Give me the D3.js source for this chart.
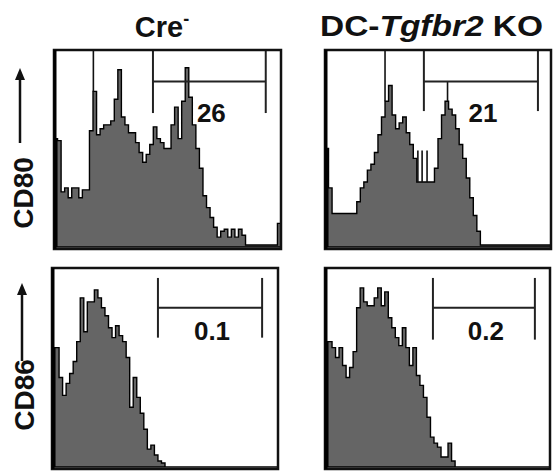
<!DOCTYPE html>
<html>
<head>
<meta charset="utf-8" />
<style>
body { margin: 0; background-color: #fff; }
#chart { width: 553px; height: 472px; }
text { font-family: "Liberation Sans", Arial, sans-serif; font-weight: bold; fill: #111; }
</style>
<title>CD80 / CD86 histograms</title>
</head>
<body>
<div id="chart"></div>
<script src="https://d3js.org/d3.v7.min.js"></script>
<script>

// column / row labels
var groups = ["Cre", "DC-Tgfbr2 KO"];
var markers = ["CD80", "CD86"];

// histogram counts per channel (fraction of panel height), 64 channels
var creCD80 = [0.55,0.54,0.28,0.30,0.25,0.30,0.30,0.25,0.29,0.29,
               0.59,0.79,0.57,0.60,0.62,0.62,0.64,0.75,0.90,0.66,
               0.62,0.58,0.58,0.53,0.48,0.43,0.47,0.52,0.61,0.55,
               0.53,0.50,0.50,0.62,0.71,0.55,0.74,0.91,0.76,0.62,
               0.50,0.40,0.26,0.20,0.15,0.10,0.05,0.08,0.09,0.05,
               0.09,0.05,0.09,0.06,0.01,0.01,0.01,0.01,0.01,0.01,
               0.01,0.01,0.01,0.12];
var koCD80 = [0.50,0.30,0.17,0.17,0.17,0.17,0.17,0.17,0.17,0.23,
              0.30,0.33,0.39,0.42,0.48,0.57,0.66,0.74,0.82,0.67,
              0.60,0.63,0.66,0.58,0.52,0.45,0.33,0.33,0.33,0.33,
              0.33,0.40,0.55,0.67,0.74,0.70,0.67,0.60,0.52,0.45,
              0.35,0.25,0.16,0.08,0.01,0.01,0.01,0.01,0.01,0.01,
              0.01,0.01,0.01,0.01,0.01,0.01,0.01,0.01,0.01,0.01,
              0.01,0.01,0.01,0.01];
var creCD86 = [0.60,0.60,0.45,0.36,0.42,0.47,0.53,0.63,0.85,0.68,
               0.83,0.83,0.89,0.85,0.80,0.76,0.70,0.65,0.71,0.66,
               0.63,0.55,0.30,0.45,0.35,0.27,0.19,0.09,0.11,0.06,
               0.03,0.02,0,0,0,0,0,0,0,0,
               0,0,0,0,0,0,0,0,0,0,
               0,0,0,0,0,0,0,0,0,0,
               0,0,0,0];
var koCD86 = [0.63,0.63,0.60,0.55,0.60,0.51,0.45,0.50,0.58,0.80,
              0.90,0.83,0.81,0.81,0.85,0.90,0.81,0.88,0.75,0.70,
              0.65,0.61,0.70,0.60,0.51,0.60,0.46,0.41,0.35,0.25,
              0.15,0.12,0.10,0.05,0.05,0.12,0.03,0,0,0,
              0,0,0,0,0,0,0,0,0,0,
              0,0,0,0,0,0,0,0,0,0,
              0,0,0,0];

// single-channel spikes [channel, height]
var creCD80Spikes = [[11.1, 1.0]];
var koCD80Spikes = [[17.0, 1.0], [26.3, 0.49], [27.5, 0.49], [28.9, 0.49], [34.7, 0.84]];

// gates [from channel, to channel] and % positive
var gates = [[27.9, 59.7], [28.0, 60.3], [30.0, 59.5], [30.7, 59.7]];
var gatePct = ["26", "21", "0.1", "0.2"];

var nBins = 64;

var svg = d3.select("#chart").append("svg")
    .attr("width", 553)
    .attr("height", 472);

var panels = [
    {data: creCD80, spikes: creCD80Spikes, gate: gates[0], pct: gatePct[0], x0: 54, x1: 281, top: 50, bottom: 247, gy: [1.0, 0.84, 0.68], ly: 122},
    {data: koCD80, spikes: koCD80Spikes, gate: gates[1], pct: gatePct[1], x0: 325, x1: 551, top: 50, bottom: 247, gy: [1.0, 0.84, 0.69], ly: 122},
    {data: creCD86, spikes: [], gate: gates[2], pct: gatePct[2], x0: 52, x1: 278, top: 268, bottom: 467, gy: [0.95, 0.80, 0.65], ly: 340},
    {data: koCD86, spikes: [], gate: gates[3], pct: gatePct[3], x0: 325, x1: 550, top: 268, bottom: 467, gy: [0.95, 0.80, 0.64], ly: 340}
];

panels.forEach(function(p) {
    var x = d3.scaleLinear().domain([0, nBins]).range([p.x0, p.x1]);
    var y = d3.scaleLinear().domain([0, 1]).range([p.bottom, p.top]).clamp(true);
    var g = svg.append("g");

    var pts = p.data.map(function(v, i) { return [i, v]; });
    pts.push([nBins, p.data[p.data.length - 1]]);

    var area = d3.area()
        .curve(d3.curveStepAfter)
        .x(function(d) { return x(d[0]); })
        .y0(y(0))
        .y1(function(d) { return y(d[1]); });

    g.append("path")
        .attr("d", area(pts))
        .attr("fill", "#656565")
        .attr("stroke", "#000")
        .attr("stroke-width", 1.4);

    // pile-up in the first channel shows up solid black
    g.append("rect")
        .attr("x", x(0)).attr("y", y(p.data[0]))
        .attr("width", x(1) - x(0)).attr("height", y(0) - y(p.data[0]))
        .attr("fill", "#000");

    g.selectAll(".spike").data(p.spikes).enter()
        .append("line")
        .attr("x1", function(d) { return x(d[0]); })
        .attr("x2", function(d) { return x(d[0]); })
        .attr("y1", function(d) { return y(p.data[Math.floor(d[0])]); })
        .attr("y2", function(d) { return y(d[1]); })
        .attr("stroke", "#111")
        .attr("stroke-width", 1.6);

    // gate bracket
    var gx0 = x(p.gate[0]), gx1 = x(p.gate[1]);
    [gx0, gx1].forEach(function(gx) {
        g.append("line")
            .attr("x1", gx).attr("x2", gx)
            .attr("y1", y(p.gy[0])).attr("y2", y(p.gy[2]))
            .attr("stroke", "#222").attr("stroke-width", 2);
    });
    g.append("line")
        .attr("x1", gx0).attr("x2", gx1)
        .attr("y1", y(p.gy[1])).attr("y2", y(p.gy[1]))
        .attr("stroke", "#222").attr("stroke-width", 2);

    g.append("text")
        .attr("x", (gx0 + gx1) / 2 + 2)
        .attr("y", p.ly)
        .attr("text-anchor", "middle")
        .attr("font-size", 26)
        .text(p.pct);

    // frame
    g.append("rect")
        .attr("x", p.x0).attr("y", p.top)
        .attr("width", p.x1 - p.x0).attr("height", p.bottom - p.top + 2)
        .attr("fill", "none")
        .attr("stroke", "#111")
        .attr("stroke-width", 2.5);
    g.append("line")
        .attr("x1", p.x0 + 1).attr("x2", p.x0 + 1)
        .attr("y1", p.top).attr("y2", p.bottom + 2)
        .attr("stroke", "#000").attr("stroke-width", 3);
});

// column titles
var t1 = svg.append("text").attr("x", 162).attr("y", 37)
    .attr("text-anchor", "middle").attr("font-size", 29);
t1.append("tspan").text(groups[0]);
t1.append("tspan").attr("dy", -12).attr("font-size", 18).text("-");

var t2 = svg.append("text").attr("x", 320).attr("y", 36)
    .attr("font-size", 29)
    .attr("textLength", 223).attr("lengthAdjust", "spacingAndGlyphs");
t2.append("tspan").text("DC-");
t2.append("tspan").attr("font-style", "italic").text("Tgfbr2");
t2.append("tspan").text(" KO");

// row labels with arrows
var rows = [
    {label: markers[0], cx: 23, cy: 193, ax: 20, a0: 143, a1: 68},
    {label: markers[1], cx: 24, cy: 395, ax: 22, a0: 361, a1: 283}
];
rows.forEach(function(r) {
    svg.append("text")
        .attr("transform", "translate(" + (r.cx + 10) + "," + r.cy + ") rotate(-90)")
        .attr("text-anchor", "middle")
        .attr("font-size", 28)
        .text(r.label);
    svg.append("line")
        .attr("x1", r.ax).attr("x2", r.ax)
        .attr("y1", r.a0).attr("y2", r.a1 + 8)
        .attr("stroke", "#111").attr("stroke-width", 2.5);
    svg.append("path")
        .attr("d", "M" + (r.ax - 5) + "," + (r.a1 + 12) + "L" + r.ax + "," + r.a1 + "L" + (r.ax + 5) + "," + (r.a1 + 12) + "Z")
        .attr("fill", "#111");
});

</script>
</body>
</html>
